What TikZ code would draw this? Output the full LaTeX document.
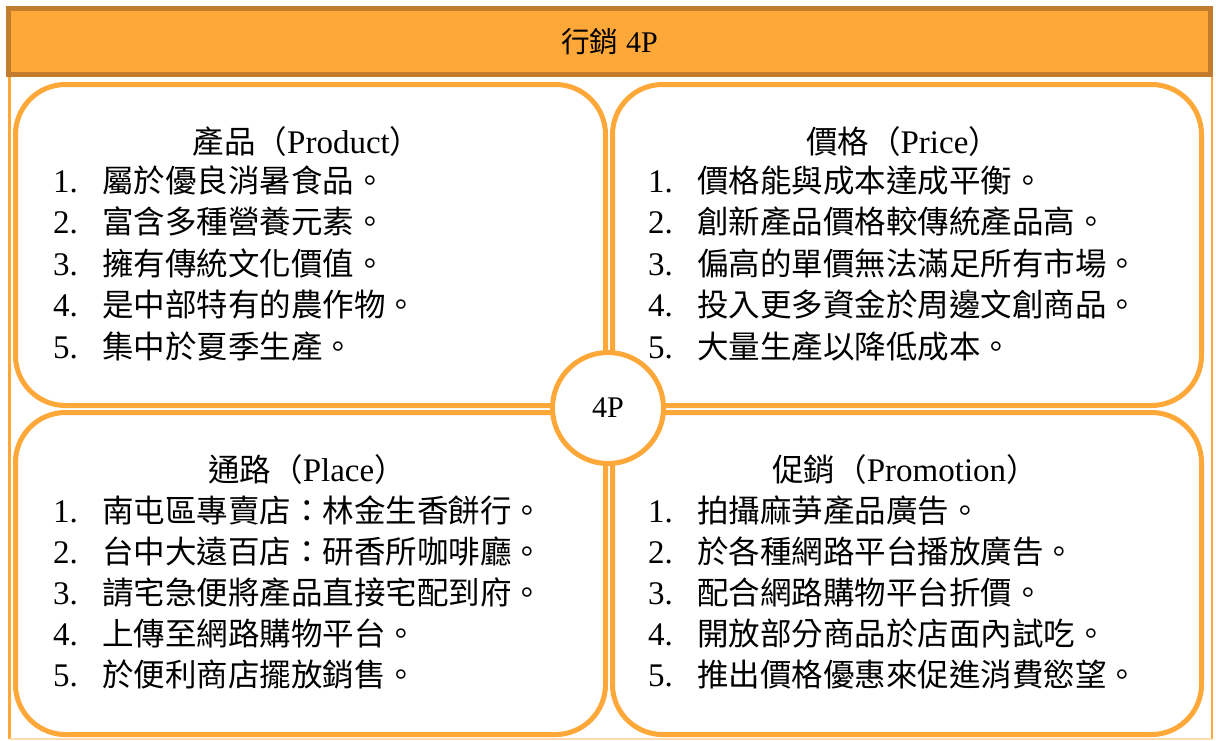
\documentclass[tikz,border=0pt]{standalone}
\usepackage{fontspec}
\setmainfont{Liberation Serif}
\newfontfamily\cjk[Scale=0.955]{Noto Sans CJK TC}
\definecolor{org}{HTML}{FFA83A}
\definecolor{dorg}{HTML}{C17D2D}
\tikzset{
  quad/.style={draw=org, line width=5pt, rounded corners=50pt, fill=white},
  txt/.style={inner sep=0pt, anchor=west, font=\fontsize{33}{33}\selectfont, text height=0.86em, text depth=0.14em},
  head/.style={inner sep=0pt, font=\fontsize{33}{33}\selectfont, text height=0.86em, text depth=0.14em}
}
\begin{document}
\begin{tikzpicture}[x=1pt,y=-1pt]
\useasboundingbox (0,0) rectangle (1216,740);
\fill[white] (0,0) rectangle (1216,740);
% outer frame
\draw[org, line width=2.5pt] (9.5,74) -- (9.5,739);
\draw[org, line width=1.5pt] (1212,74) -- (1212,739);
\draw[org!40, line width=1.5pt] (9.5,739) -- (1212,739);
% header
\node[draw=dorg, fill=org, line width=4.5pt, minimum width=1202pt, minimum height=66pt, inner sep=0pt, font=\fontsize{30}{30}\selectfont] (title) at (609.5,41.5) {{\cjk 行銷} 4P};
% quadrants
\node[quad, minimum width=590pt, minimum height=321pt] (q1) at (310.5,245) {};
\node[quad, minimum width=589pt, minimum height=321pt] (q2) at (907,245) {};
\node[quad, minimum width=590pt, minimum height=322pt] (q3) at (310.5,573.5) {};
\node[quad, minimum width=589pt, minimum height=322pt] (q4) at (907,573.5) {};
% centre circle
\node[circle, draw=org, line width=5pt, fill=white, minimum size=111pt, inner sep=0pt, font=\fontsize{30}{30}\selectfont] (c) at (608,408) {4P};
% headings
\node[head] (h1) at (307,150) {{\cjk 產品（}Product{\cjk ）}};
\node[head] (h2) at (903,150) {{\cjk 價格（}Price{\cjk ）}};
\node[head] (h3) at (307,478) {{\cjk 通路（}Place{\cjk ）}};
\node[head] (h4) at (905,478) {{\cjk 促銷（}Promotion{\cjk ）}};
% lists
\foreach \i/\y/\t in {1/189/屬於優良消暑食品。,2/230/富含多種營養元素。,3/272/擁有傳統文化價值。,4/313/是中部特有的農作物。,5/355/集中於夏季生產。}{
  \node[txt] (an\i) at (53,\y) {\i.};
  \node[txt] (at\i) at (102,\y) {\cjk \t};
}
\foreach \i/\y/\t in {1/189/價格能與成本達成平衡。,2/230/創新產品價格較傳統產品高。,3/272/偏高的單價無法滿足所有市場。,4/313/投入更多資金於周邊文創商品。,5/355/大量生產以降低成本。}{
  \node[txt] (bn\i) at (648,\y) {\i.};
  \node[txt] (bt\i) at (697,\y) {\cjk \t};
}
\foreach \i/\y/\t in {1/519/南屯區專賣店：林金生香餅行。,2/560/台中大遠百店：研香所咖啡廳。,3/601/請宅急便將產品直接宅配到府。,4/642/上傳至網路購物平台。,5/683/於便利商店擺放銷售。}{
  \node[txt] (cn\i) at (53,\y) {\i.};
  \node[txt] (ct\i) at (102,\y) {\cjk \t};
}
\foreach \i/\y/\t in {1/519/拍攝麻芛產品廣告。,2/560/於各種網路平台播放廣告。,3/601/配合網路購物平台折價。,4/642/開放部分商品於店面內試吃。,5/683/推出價格優惠來促進消費慾望。}{
  \node[txt] (dn\i) at (648,\y) {\i.};
  \node[txt] (dt\i) at (697,\y) {\cjk \t};
}
\end{tikzpicture}
\end{document}
